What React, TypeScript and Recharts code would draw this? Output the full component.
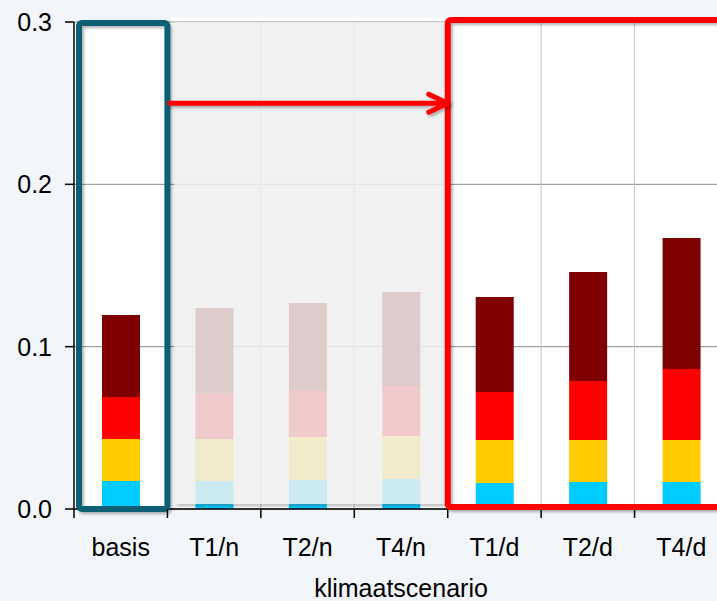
import React from "react";
import {
  BarChart,
  Bar,
  XAxis,
  YAxis,
  CartesianGrid,
  ReferenceArea,
  ReferenceLine,
} from "recharts";

// scenario categories and the four stacked parts per scenario
const scenarios = ["basis", "T1/n", "T2/n", "T4/n", "T1/d", "T2/d", "T4/d"];
const cyanPart = [0.0172, 0.0172, 0.0179, 0.0185, 0.016, 0.0166, 0.0166];
const yellowPart = [0.0259, 0.0259, 0.0265, 0.0265, 0.0265, 0.0259, 0.0259];
const redPart = [0.0259, 0.0279, 0.0283, 0.0308, 0.0296, 0.0364, 0.0437];
const darkRedPart = [0.0505, 0.0528, 0.0542, 0.0579, 0.0585, 0.0671, 0.0808];
const yTicks = [0, 0.1, 0.2, 0.3];
const arrowLevel = 0.25;

const rows = scenarios.map((name, i) => ({
  name,
  cyan: cyanPart[i],
  yellow: yellowPart[i],
  red: redPart[i],
  darkRed: darkRedPart[i],
}));

const FONT = "'Liberation Sans', Arial, sans-serif";
const BG = "#f2f5fa";
const FS = 25;

function ScenarioTick(props: any) {
  const { x, y, payload } = props;
  const half = payload?.offset ?? 46.7;
  const axisY = y - 29;
  return (
    <g>
      <line x1={x - half} x2={x - half} y1={axisY} y2={axisY + 9} stroke="#000" strokeWidth={1.5} />
      <text x={x} y={y} dy="0.71em" textAnchor="middle" fontSize={FS} fill="#000">
        {payload.value}
      </text>
    </g>
  );
}

function ArrowShape(props: any) {
  const { x1, y1, x2, y2 } = props;
  if (x1 == null || x2 == null) return null;
  return (
    <g filter="url(#softShadow)">
      <line x1={x1} y1={y1} x2={x2} y2={y2} stroke="#ff0000" strokeWidth={5} />
      <polyline
        points={`${x2 - 19},${y2 - 9} ${x2},${y2} ${x2 - 19},${y2 + 9}`}
        fill="none"
        stroke="#ff0000"
        strokeWidth={5}
        strokeLinecap="round"
        strokeLinejoin="round"
      />
    </g>
  );
}

export default function App() {
  return (
    <div
      style={{
        position: "absolute",
        left: 0,
        top: 0,
        width: 717,
        height: 601,
        overflow: "hidden",
        background: BG,
        fontFamily: FONT,
      }}
    >
      {/* thin white strip above the plot top */}
      <div style={{ position: "absolute", left: 171, top: 17, width: 560, height: 8, background: "#fff" }} />
      <div style={{ position: "absolute", left: 0, top: 0 }}>
        <BarChart
          width={730}
          height={620}
          data={rows}
          margin={{ top: 22, right: 2, bottom: 0, left: 0 }}
          barSize={38}
        >
          <defs>
            <filter id="softShadow" filterUnits="userSpaceOnUse" x={0} y={0} width={800} height={700}>
              <feDropShadow dx={2} dy={2} stdDeviation={1.5} floodColor="#000" floodOpacity={0.3} />
            </filter>
            {/* shadow only, outside the source shape */}
            <filter id="shadowOnly" filterUnits="userSpaceOnUse" x={0} y={0} width={800} height={700}>
              <feGaussianBlur in="SourceAlpha" stdDeviation={1.5} result="blur" />
              <feOffset in="blur" dx={2} dy={2} result="off" />
              <feComposite in="off" in2="SourceAlpha" operator="out" result="outside" />
              <feColorMatrix
                in="outside"
                type="matrix"
                values="0 0 0 0 0  0 0 0 0 0  0 0 0 0 0  0 0 0 0.3 0"
              />
            </filter>
          </defs>
          <CartesianGrid vertical={false} stroke="#8c8c8c" fill="#fff" />
          <CartesianGrid
            horizontal={false}
            stroke="#c4c4c4"
            verticalCoordinatesGenerator={({ offset }: any) =>
              scenarios.map((_, i) => offset.left + (offset.width * (i + 1)) / scenarios.length)
            }
          />
          <XAxis
            dataKey="name"
            type="category"
            height={111}
            tickSize={9}
            tickMargin={20}
            tickLine={false}
            axisLine={{ stroke: "#000", strokeWidth: 1.5 }}
            tick={<ScenarioTick />}
            interval={0}
            label={{ value: "klimaatscenario", position: "insideBottom", offset: 23, fontSize: FS, fill: "#000" }}
          />
          <YAxis
            width={74}
            domain={[0, 0.3]}
            ticks={yTicks}
            tickFormatter={(v) => Number(v).toFixed(1)}
            tickSize={9}
            tickMargin={13}
            tick={{ fontSize: FS, fill: "#000" }}
            tickLine={{ stroke: "#000", strokeWidth: 1.5 }}
            axisLine={{ stroke: "#000", strokeWidth: 1.5 }}
          />
          <Bar dataKey="cyan" stackId="s" fill="#00ccff" isAnimationActive={false} />
          <Bar dataKey="yellow" stackId="s" fill="#ffcc00" isAnimationActive={false} />
          <Bar dataKey="red" stackId="s" fill="#ff0000" isAnimationActive={false} />
          <Bar dataKey="darkRed" stackId="s" fill="#7f0000" isAnimationActive={false} />

          {/* greyed-out "n" scenarios */}
          <ReferenceArea
            x1="T1/n"
            x2="T4/n"
            y1={0.003}
            y2={0.3}
            ifOverflow="visible"
            zIndex={450}
            shape={(p: any) => (
              <g>
                <rect
                  x={p.x + 7}
                  y={p.y}
                  width={p.width - 7}
                  height={p.height}
                  fill="#000"
                  filter="url(#shadowOnly)"
                />
                <rect
                  x={p.x + 7}
                  y={p.y}
                  width={p.width - 7}
                  height={p.height}
                  fill="#eeeeee"
                  fillOpacity={0.85}
                />
              </g>
            )}
          />
          {/* frame around the base case */}
          <ReferenceArea
            x1="basis"
            x2="basis"
            y1={0}
            y2={0.3}
            ifOverflow="visible"
            zIndex={1500}
            shape={(p: any) => (
              <rect
                x={p.x + 5}
                y={p.y + 1}
                width={p.width - 5}
                height={p.height - 1}
                rx={3}
                fill="none"
                stroke="#0b5f74"
                strokeWidth={6}
                filter="url(#softShadow)"
              />
            )}
          />
          {/* frame around the "d" scenarios */}
          <ReferenceArea
            x1="T1/d"
            x2="T4/d"
            y1={0}
            y2={0.3}
            ifOverflow="visible"
            zIndex={1500}
            shape={(p: any) => (
              <rect
                x={p.x}
                y={p.y - 2}
                width={p.width}
                height={p.height}
                rx={3}
                fill="none"
                stroke="#ff0000"
                strokeWidth={6}
                filter="url(#softShadow)"
              />
            )}
          />
          <ReferenceLine
            segment={[
              { x: "T1/n", y: arrowLevel },
              { x: "T1/d", y: arrowLevel },
            ]}
            position="start"
            ifOverflow="visible"
            zIndex={1600}
            shape={<ArrowShape />}
          />
        </BarChart>
      </div>
    </div>
  );
}
